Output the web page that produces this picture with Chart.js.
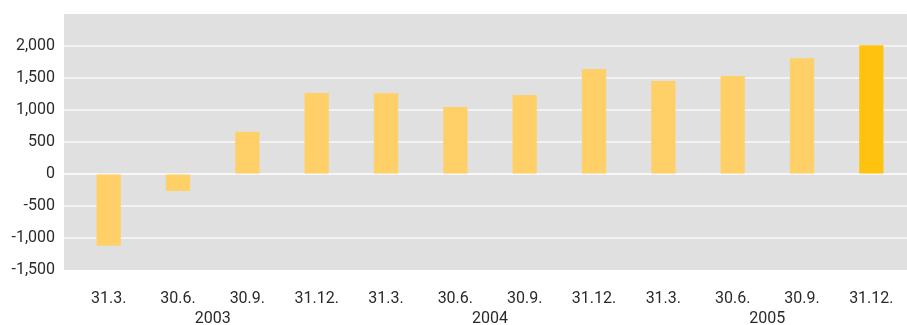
<!DOCTYPE html>
<html>
<head>
<meta charset="UTF-8">
<script src="https://cdn.jsdelivr.net/npm/chart.js@4/dist/chart.umd.min.js"></script>
<style>
    html,body{margin:0;padding:0;background:#fff;}
    #wrap{width:907px;height:325px;}
</style>
</head>
<body>
<div id="wrap"><canvas id="myChart"></canvas></div>
<script>
// data
const categories = ['31.3.','30.6.','30.9.','31.12.','31.3.','30.6.','30.9.','31.12.','31.3.','30.6.','30.9.','31.12.'];
const years = ['2003','2004','2005'];
const values = [-1120, -265, 660, 1265, 1260, 1045, 1235, 1640, 1455, 1530, 1810, 2010];
const yTicks = [-1500, -1000, -500, 0, 500, 1000, 1500, 2000];

const barColor = '#ffd067';
const lastColor = '#ffc20f';
const textColor = '#2a2a2a';
const fontFamily = 'Roboto';
const fontSize = 16;

// grey panel + gridlines drawn across the whole panel
const panelPlugin = {
    id: 'panel',
    beforeDatasetsDraw(chart){
        const ctx = chart.ctx, y = chart.scales.y, a = chart.chartArea;
        const left = 64, right = chart.width;
        ctx.save();
        ctx.fillStyle = '#e0e0e0';
        ctx.fillRect(left, a.top, right-left, a.bottom-a.top);
        ctx.strokeStyle = '#f2f2f2';
        ctx.lineWidth = 2;
        yTicks.forEach(function(t){
            if(t === -1500) return;
            const py = Math.round(y.getPixelForValue(t));
            ctx.beginPath();
            ctx.moveTo(left, py);
            ctx.lineTo(right, py);
            ctx.stroke();
        });
        ctx.restore();
    },
    afterDatasetsDraw(chart){
        // faint zero line over the bars
        const ctx = chart.ctx, y = chart.scales.y;
        const py = Math.round(y.getPixelForValue(0));
        ctx.save();
        ctx.strokeStyle = 'rgba(255,255,255,0.45)';
        ctx.lineWidth = 2;
        ctx.beginPath();
        ctx.moveTo(64, py);
        ctx.lineTo(chart.width, py);
        ctx.stroke();
        ctx.restore();
    },
    afterDraw(chart){
        // year labels under each group of four quarters
        const ctx = chart.ctx, x = chart.scales.x;
        ctx.save();
        ctx.fillStyle = textColor;
        ctx.font = fontSize + 'px ' + fontFamily;
        ctx.textAlign = 'center';
        ctx.textBaseline = 'middle';
        years.forEach(function(yr, g){
            const cx = (x.getPixelForValue(g*4) + x.getPixelForValue(g*4+3)) / 2;
            ctx.fillText(yr, cx, 319);
        });
        ctx.restore();
    }
};

const ctx = document.getElementById('myChart').getContext('2d');
const myChart = new Chart(ctx, {
    type: 'bar',
    data: {
        labels: categories,
        datasets: [{
            data: values,
            backgroundColor: values.map(function(v, i){ return i === values.length-1 ? lastColor : barColor; }),
            borderWidth: 0,
            barPercentage: 0.35,
            categoryPercentage: 1
        }]
    },
    options: {
        responsive: true,
        maintainAspectRatio: false,
        animation: false,
        layout: { padding: { top: 14, right: 1, left: 0, bottom: 0 } },
        plugins: { legend: { display: false }, tooltip: { enabled: false } },
        scales: {
            x: {
                grid: { display: false, drawTicks: false },
                border: { display: false },
                ticks: { color: textColor, font: { family: fontFamily, size: fontSize }, padding: 19, maxRotation: 0, autoSkip: false },
                afterFit: function(s){ s.height = 55; s.paddingLeft = 0; s.paddingRight = 0; }
            },
            y: {
                min: -1500,
                max: 2500,
                grid: { display: false, drawTicks: false },
                border: { display: false },
                ticks: {
                    stepSize: 500,
                    color: textColor,
                    font: { family: fontFamily, size: fontSize },
                    padding: 19,
                    callback: function(v){ return yTicks.indexOf(v) < 0 ? '' : v.toLocaleString('en-US'); }
                },
                afterFit: function(s){ s.width = 74; s.paddingTop = 0; s.paddingBottom = 0; }
            }
        }
    },
    plugins: [panelPlugin]
});
</script>
</body>
</html>
